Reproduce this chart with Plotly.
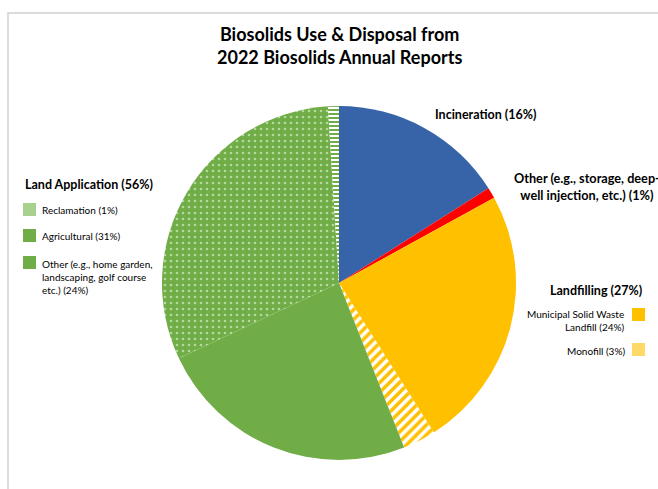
import plotly.graph_objects as go

labels = ["Incineration", "Other (storage, deep-well injection)", "Municipal Solid Waste Landfill",
          "Monofill", "Other land application", "Agricultural", "Reclamation"]
values = [16, 1, 24, 3, 24, 31, 1]
colors = ["#3764A8", "#FF0000", "#FFC000", "#FFFFFF", "#70AD47", "#70AD47", "#FFFFFF"]
pat_shapes = ["", "", "", "/", "", ".", "-"]
pat_fg = ["#3764A8", "#FF0000", "#FFC000", "#FFC000", "#70AD47", "#B5D99C", "#70AD47"]
pat_bg = ["#3764A8", "#FF0000", "#FFC000", "#FFFFFF", "#70AD47", "#70AD47", "#FFFFFF"]
pat_size = [8, 8, 8, 7, 8, 6, 4]
pat_sol = [0.3, 0.3, 0.3, 0.5, 0.3, 0.15, 0.5]

W, H = 658, 489
FONT = "Lato, Noto Sans, Arial"

def px(x):
    return x / W

def py(y):
    return 1 - y / H

fig = go.Figure(go.Pie(
    labels=labels, values=values, sort=False, direction="clockwise", rotation=0,
    textinfo="none", hoverinfo="label+percent", showlegend=False,
    marker=dict(colors=colors, line=dict(width=0),
                pattern=dict(shape=pat_shapes, fgcolor=pat_fg, bgcolor=pat_bg,
                             size=pat_size, solidity=pat_sol, fillmode="replace")),
    domain=dict(x=[px(162), px(516)], y=[py(460), py(106)]),
))

annots = []
def add(text, x, y, size, bold=False, xanchor="left", align="left"):
    t = f"<b>{text}</b>" if bold else text
    annots.append(dict(text=t, x=px(x), y=py(y), xref="paper", yref="paper",
                       xanchor=xanchor, yanchor="middle", align=align, showarrow=False,
                       font=dict(family=FONT, size=size, color="#000000")))

add("Biosolids Use & Disposal from<br>2022 Biosolids Annual Reports", 339, 45, 18, True, "center", "center")
add("Incineration (16%)", 433, 114, 12.5, True)
add("Other (e.g., storage, deep-<br>well injection, etc.) (1%)", 587, 186, 12.7, True, "center", "center")
add("Landfilling (27%)", 644, 290, 12.5, True, "right", "right")
add("Municipal Solid Waste<br>Landfill (24%)", 627, 320, 10, False, "right", "right")
add("Monofill (3%)", 627, 351, 10, False, "right", "right")
add("Land Application (56%)", 23, 184, 12.5, True)
add("Reclamation (1%)", 40, 210, 10)
add("Agricultural (31%)", 40, 236, 10)
add("Other (e.g., home garden,<br>landscaping, golf course<br>etc.) (24%)", 40, 277, 10)

shapes = [
    dict(type="path", xref="paper", yref="paper",
         path=f"M {px(8)} {py(H+5)} L {px(8)} {py(13)} L {px(W+5)} {py(13)}",
         line=dict(color="#D0D0D0", width=1.5)),
]
sq = [  # (x0, y0, fill)
    (23, 203, "#A9D18E"), (23, 229, "#70AD47"), (23, 256, "#70AD47"),
    (632, 308, "#FFC000"), (632, 343, "#FFD966"),
]
for x0, y0, c in sq:
    shapes.append(dict(type="rect", xref="paper", yref="paper",
                       x0=px(x0), x1=px(x0 + 13), y0=py(y0 + 13), y1=py(y0),
                       fillcolor=c, line=dict(width=0)))

fig.update_layout(width=W, height=H, margin=dict(l=0, r=0, t=0, b=0),
                  paper_bgcolor="white", plot_bgcolor="white",
                  annotations=annots, shapes=shapes)
fig.write_html("out.html", config={"displayModeBar": False},
               post_script="document.body.style.margin='0';")
